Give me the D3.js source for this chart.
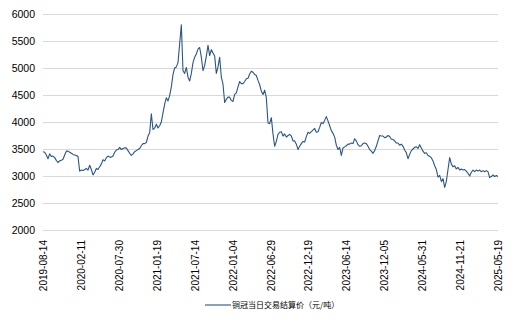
<!DOCTYPE html>
<html><head><meta charset="utf-8">
<script src="https://cdn.jsdelivr.net/npm/d3@7"></script>
<style>body{margin:0;background:#fff}svg{display:block}</style>
</head><body>
<svg id="chart" width="527" height="324"></svg>
<script>
// Evenly spaced samples of the settlement price (category axis)
const prices = [
3450,3440,3390,3320,3410,3360,3370,3340,3290,3250,3280,3290,3310,3390,3460,3460,3440,3420,3400,3390,
3380,3360,3090,3110,3100,3120,3140,3110,3200,3120,3020,3070,3140,3120,3170,3220,3300,3280,3340,3370,
3350,3350,3370,3440,3480,3490,3530,3490,3510,3520,3520,3470,3420,3380,3410,3450,3470,3490,3510,3560,
3600,3600,3620,3740,3800,4150,3860,3890,3960,3890,3930,4000,4170,4330,4450,4390,4490,4650,4880,5000,
5020,5100,5450,5800,4950,4900,5010,4830,4760,4900,5100,5200,5260,5350,5380,5200,4950,5050,5220,5420,
5230,5340,5280,5220,4900,5020,5200,4830,4700,4360,4420,4460,4460,4400,4380,4510,4540,4650,4750,4710,
4710,4750,4800,4810,4890,4940,4920,4880,4860,4770,4690,4570,4510,4590,4450,3980,3970,4080,3780,3550,
3640,3770,3810,3820,3740,3780,3720,3750,3770,3740,3650,3650,3590,3490,3550,3600,3640,3630,3730,3810,
3790,3820,3850,3880,3810,3820,3900,3990,3970,4030,4100,4020,3930,3840,3790,3720,3570,3490,3530,3380,
3520,3540,3560,3590,3590,3610,3600,3690,3650,3580,3550,3560,3600,3610,3600,3550,3490,3460,3420,3470,
3550,3650,3750,3740,3740,3710,3720,3750,3730,3680,3680,3650,3610,3610,3570,3590,3550,3480,3430,3320,
3400,3470,3500,3530,3540,3510,3580,3520,3460,3420,3430,3380,3360,3340,3280,3190,3120,2980,3010,2900,
2950,2790,2900,3120,3340,3220,3170,3190,3130,3160,3110,3130,3110,3120,3090,3050,3000,3070,3110,3080,
3110,3090,3110,3080,3100,3080,3100,3080,2970,2990,3020,2990,3010,2990
];
const tickLabels = ["2019-08-14","2020-02-11","2020-07-30","2021-01-19","2021-07-14","2022-01-04",
  "2022-06-29","2022-12-19","2023-06-14","2023-12-05","2024-05-31","2024-11-21","2025-05-19"];
const yTicks = [2000,2500,3000,3500,4000,4500,5000,5500,6000];
const seriesName = "铜冠当日交易结算价（元/吨）";

const svg = d3.select("#chart");
const plotL = 43, plotR = 498, plotT = 14, plotB = 230;
const n = prices.length;
const x = d3.scaleLinear().domain([0, n - 1]).range([plotL, plotR]);
const y = d3.scaleLinear().domain([2000, 6000]).range([plotB, plotT]);

// grid + y labels
const yAxis = d3.axisLeft(y).tickValues(yTicks).tickSize(-(plotR - plotL)).tickPadding(8).tickFormat(d3.format("d"));
const gy = svg.append("g").attr("transform", `translate(${plotL},0)`).call(yAxis);
gy.select(".domain").remove();
gy.selectAll(".tick line").attr("stroke", "#d9d9d9").attr("stroke-width", 1);
gy.selectAll(".tick text").attr("font-family", "Liberation Sans, Arial, sans-serif").attr("font-size", "10.5px").attr("fill", "#000");

// x labels (category axis)
const tickIdx = tickLabels.map((d, j) => j * (n - 1) / (tickLabels.length - 1));
const xAxis = d3.axisBottom(x).tickValues(tickIdx).tickSize(0).tickFormat((d, j) => tickLabels[j]);
const gx = svg.append("g").attr("transform", `translate(0,${plotB})`).call(xAxis);
gx.select(".domain").remove();
gx.selectAll(".tick text")
  .attr("font-family", "Liberation Sans, Arial, sans-serif").attr("font-size", "10px").attr("fill", "#000")
  .attr("text-anchor", "end").attr("transform", "rotate(-90)")
  .attr("x", -10).attr("y", 0).attr("dy", "0.35em");

// line
const line = d3.line().x((d, i) => x(i)).y(d => y(d));
svg.append("path").datum(prices).attr("d", line)
  .attr("fill", "none").attr("stroke", "#2a5585").attr("stroke-width", 1.1).attr("stroke-linejoin", "round");

// legend
const lg = svg.append("g").attr("transform", "translate(205,305)");
lg.append("line").attr("x1", 0).attr("x2", 26).attr("y1", 0).attr("y2", 0).attr("stroke", "#2a5585").attr("stroke-width", 1.1);
lg.append("text").attr("x", 27).attr("y", 0).attr("dy", "0.35em")
  .attr("font-family", "Noto Sans CJK SC, sans-serif").attr("font-size", "8px").attr("fill", "#000").text(seriesName);
</script>
</body></html>
